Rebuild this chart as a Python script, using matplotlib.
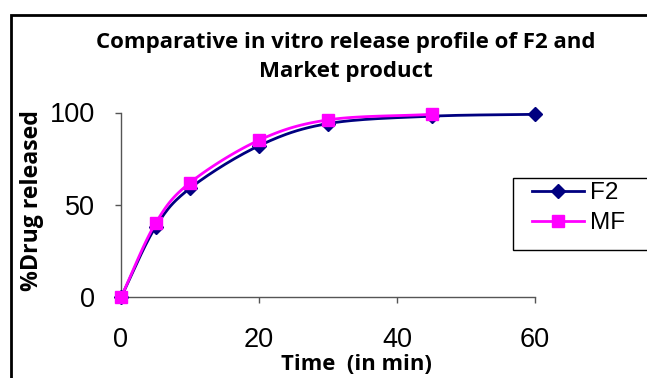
import matplotlib

matplotlib.use("Agg")

import matplotlib.pyplot as plt
import numpy as np
from matplotlib.patches import Rectangle

# release data, % drug released vs time (min)
time_f2 = [0, 5, 10, 20, 30, 45, 60]
release_f2 = [0, 38, 59, 82, 94, 98, 99]
time_mf = [0, 5, 10, 20, 30, 45]
release_mf = [0, 40, 62, 85, 96, 99]

x_ticks = [0, 20, 40, 60]
y_ticks = [0, 50, 100]

TITLE = "Comparative in vitro release profile of F2 and\nMarket product"
XLABEL = "Time  (in min)"
YLABEL = "%Drug released"

F2_COLOR = "#000080"
MF_COLOR = "#FF00FF"
LABEL_FONT = "Open Sans"
TICK_FONT = "Liberation Sans"
W, H = 647, 378


def smooth(xs, ys, steps=24):
    """Catmull-Rom curve through the points, like a spreadsheet 'smoothed line'."""
    xs = np.asarray(xs, dtype=float)
    ys = np.asarray(ys, dtype=float)
    px = np.concatenate([[2 * xs[0] - xs[1]], xs, [2 * xs[-1] - xs[-2]]])
    py = np.concatenate([[2 * ys[0] - ys[1]], ys, [2 * ys[-1] - ys[-2]]])
    out_x, out_y = [], []
    t = np.linspace(0, 1, steps, endpoint=False)
    for i in range(1, len(px) - 2):
        for p, out in ((px, out_x), (py, out_y)):
            p0, p1, p2, p3 = p[i - 1], p[i], p[i + 1], p[i + 2]
            m1 = (p2 - p0) / 2.0
            m2 = (p3 - p1) / 2.0
            h00 = 2 * t**3 - 3 * t**2 + 1
            h10 = t**3 - 2 * t**2 + t
            h01 = -2 * t**3 + 3 * t**2
            h11 = t**3 - t**2
            out.extend(h00 * p1 + h10 * m1 + h01 * p2 + h11 * m2)
    out_x.append(xs[-1])
    out_y.append(ys[-1])
    return np.array(out_x), np.array(out_y)


fig = plt.figure(figsize=(W / 100, H / 100), dpi=100)
ax = fig.add_axes([121 / W, 1 - 297.3 / H, (535 - 121) / W, (297.3 - 112.5) / H])

sx, sy = smooth(time_f2, release_f2)
ax.plot(sx, sy, color=F2_COLOR, linewidth=2.0, zorder=3, clip_on=False)
ax.plot(time_f2, release_f2, linestyle="none", marker="D", markersize=7,
        color=F2_COLOR, zorder=4, clip_on=False)

sx, sy = smooth(time_mf, release_mf)
ax.plot(sx, sy, color=MF_COLOR, linewidth=2.0, zorder=5, clip_on=False)
ax.plot(time_mf, release_mf, linestyle="none", marker="s", markersize=8.5,
        color=MF_COLOR, zorder=6, clip_on=False)

ax.set_xlim(0, 60)
ax.set_ylim(0, 100)
ax.set_xticks(x_ticks)
ax.set_yticks(y_ticks)
ax.tick_params(axis="x", direction="out", length=4.5, width=1, colors="#555555",
               labelcolor="black", pad=17, labelsize=19.5)
ax.tick_params(axis="y", direction="out", length=4.5, width=1, colors="#555555",
               labelcolor="black", pad=14, labelsize=19.5)
for lab in ax.get_xticklabels() + ax.get_yticklabels():
    lab.set_fontfamily(TICK_FONT)
for side in ("top", "right"):
    ax.spines[side].set_visible(False)
for side in ("left", "bottom"):
    ax.spines[side].set_color("#555555")
    ax.spines[side].set_linewidth(1.0)

fig.text(346 / W, 1 - 57 / H, TITLE, ha="center", va="center",
         fontsize=16, fontweight="bold", family=LABEL_FONT, linespacing=1.55)
fig.text(356 / W, 1 - 364 / H, XLABEL, ha="center", va="center",
         fontsize=15.8, fontweight="bold", family=LABEL_FONT)
fig.text(32 / W, 1 - 201 / H, YLABEL, ha="center", va="center", rotation=90,
         fontsize=16.7, fontweight="bold", family=LABEL_FONT)

# chart border, runs off the right and bottom edges
fig.patches.append(Rectangle((10.5 / W, -0.1), 1.2, 1.1 - 15 / H,
                             transform=fig.transFigure, fill=False,
                             edgecolor="black", linewidth=2.0))

# legend box, also cut by the right edge
fig.patches.append(Rectangle((513 / W, 1 - 250 / H), 0.4, 72.3 / H,
                             transform=fig.transFigure, fill=True,
                             facecolor="white", edgecolor="black",
                             linewidth=1.0, zorder=4))
handles = [
    plt.Line2D([], [], color=F2_COLOR, linewidth=2.0, marker="D", markersize=7),
    plt.Line2D([], [], color=MF_COLOR, linewidth=2.0, marker="s", markersize=8.5),
]
leg = fig.legend(handles, ["F2", "MF"], loc="upper left",
                 bbox_to_anchor=(532 / W, 1 - 182 / H),
                 bbox_transform=fig.transFigure, frameon=False,
                 borderaxespad=0, borderpad=0,
                 prop={"family": TICK_FONT, "size": 17.5},
                 handlelength=2.15, handletextpad=0.25, labelspacing=0.33)
leg.set_zorder(5)

fig.savefig("out.png", dpi=100)
